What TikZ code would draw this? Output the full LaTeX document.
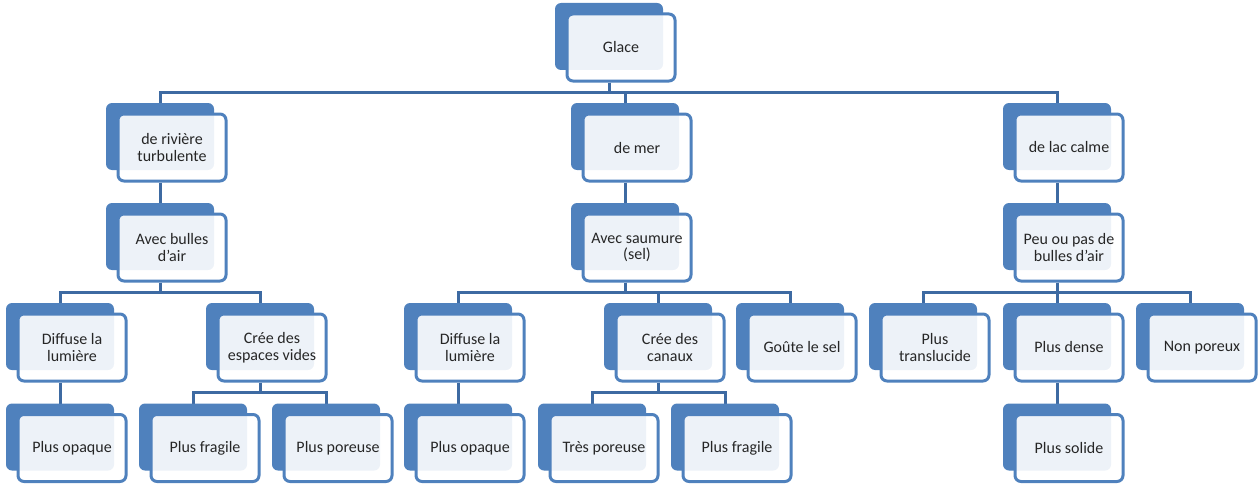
\documentclass[tikz,border=0pt]{standalone}
\usepackage{fontspec}
\setmainfont{Carlito}
\usetikzlibrary{shadows}
\definecolor{boxblue}{HTML}{4F81BD}
\definecolor{linkblue}{HTML}{3D6AA2}
\pgfdeclarelayer{bg}
\pgfsetlayers{bg,main}

\begin{document}
\begin{tikzpicture}[x=1pt, y=1pt,
		box/.style={draw=boxblue, line width=3pt, rounded corners=6pt, fill=white, fill opacity=0.9, text opacity=1,
			minimum width=108pt, minimum height=67pt, inner sep=1pt, align=center, text=black!85,
			font=\fontsize{16}{16.7}\selectfont,
			general shadow={shadow xshift=-12pt, shadow yshift=11pt, fill=boxblue, fill opacity=1, draw=none}},
		link/.style={draw=linkblue, line width=3pt}]
			\useasboundingbox (0,0) rectangle (1258,-487);
			% top
			\node[box] (glace) at (621, -47.5) {Glace};
			\node[box] (riviere) at (172, -147.5) {de rivière\\turbulente};
			\node[box] (mer) at (637, -147.5) {de mer};
			\node[box] (lac) at (1069, -147.5) {de lac calme};
			\node[box] (bulles) at (172, -247.5) {Avec bulles\\d’air};
			\node[box] (saumure) at (637, -247.5) {Avec saumure\\(sel)};
			\node[box] (peu) at (1069, -247.5) {Peu ou pas de\\bulles d’air};
			% third row
			\node[box] (diffuseA) at (72, -347.5) {Diffuse la\\lumière};
			\node[box] (espaces) at (272, -347.5) {Crée des\\espaces vides};
			\node[box] (diffuseB) at (470, -347.5) {Diffuse la\\lumière};
			\node[box] (canaux) at (670, -347.5) {Crée des\\canaux};
			\node[box] (gout) at (802, -347.5) {Goûte le sel};
			\node[box] (transl) at (935, -347.5) {Plus\\translucide};
			\node[box] (dense) at (1069, -347.5) {Plus dense};
			\node[box] (nonporeux) at (1202, -347.5) {Non poreux};
			% bottom row
			\node[box] (opaqueA) at (72, -448) {Plus opaque};
			\node[box] (fragileA) at (205, -448) {Plus fragile};
			\node[box] (poreuse) at (338, -448) {Plus poreuse};
			\node[box] (opaqueB) at (470, -448) {Plus opaque};
			\node[box] (tres) at (604, -448) {Très poreuse};
			\node[box] (fragileB) at (737, -448) {Plus fragile};
			\node[box] (solide) at (1069, -448) {Plus solide};

			\begin{pgfonlayer}{bg}
				\draw[link] ([xshift=-12pt]glace.south) -- ++(0,-10) -| ([xshift=-12pt]riviere.north);
				\draw[link] ([xshift=-12pt]glace.south) -- ++(0,-10) -| ([xshift=-12pt]mer.north);
				\draw[link] ([xshift=-12pt]glace.south) -- ++(0,-10) -| ([xshift=-12pt]lac.north);
				\draw[link] ([xshift=-12pt]riviere.south) -- ([xshift=-12pt]bulles.north);
				\draw[link] ([xshift=-12pt]mer.south) -- ([xshift=-12pt]saumure.north);
				\draw[link] ([xshift=-12pt]lac.south) -- ([xshift=-12pt]peu.north);
				\draw[link] ([xshift=-12pt]bulles.south) -- ++(0,-10) -| ([xshift=-12pt]diffuseA.north);
				\draw[link] ([xshift=-12pt]bulles.south) -- ++(0,-10) -| ([xshift=-12pt]espaces.north);
				\draw[link] ([xshift=-12pt]saumure.south) -- ++(0,-10) -| ([xshift=-12pt]diffuseB.north);
				\draw[link] ([xshift=-12pt]saumure.south) -- ++(0,-10) -| ([xshift=-12pt]canaux.north);
				\draw[link] ([xshift=-12pt]saumure.south) -- ++(0,-10) -| ([xshift=-12pt]gout.north);
				\draw[link] ([xshift=-12pt]peu.south) -- ++(0,-10) -| ([xshift=-12pt]transl.north);
				\draw[link] ([xshift=-12pt]peu.south) -- ++(0,-10) -| ([xshift=-12pt]dense.north);
				\draw[link] ([xshift=-12pt]peu.south) -- ++(0,-10) -| ([xshift=-12pt]nonporeux.north);
				\draw[link] ([xshift=-12pt]diffuseA.south) -- ([xshift=-12pt]opaqueA.north);
				\draw[link] ([xshift=-12pt]espaces.south) -- ++(0,-10) -| ([xshift=-12pt]fragileA.north);
				\draw[link] ([xshift=-12pt]espaces.south) -- ++(0,-10) -| ([xshift=-12pt]poreuse.north);
				\draw[link] ([xshift=-12pt]diffuseB.south) -- ([xshift=-12pt]opaqueB.north);
				\draw[link] ([xshift=-12pt]canaux.south) -- ++(0,-10) -| ([xshift=-12pt]tres.north);
				\draw[link] ([xshift=-12pt]canaux.south) -- ++(0,-10) -| ([xshift=-12pt]fragileB.north);
				\draw[link] ([xshift=-12pt]dense.south) -- ([xshift=-12pt]solide.north);
			\end{pgfonlayer}
		\end{tikzpicture}
\end{document}
